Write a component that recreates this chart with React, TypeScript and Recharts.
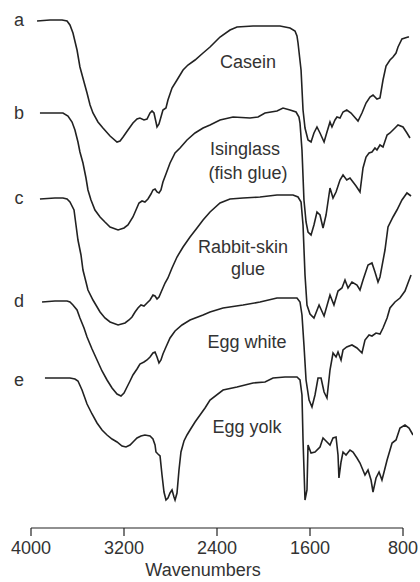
import React from "react";
import { LineChart, Line, XAxis, YAxis, ReferenceLine } from "recharts";

// IR spectra of proteinaceous binders, stacked (transmittance, offset, arbitrary units)
// each point: [wavenumber cm-1, offset transmittance]
const caseinTrace: [number, number][] = [
  [3948, 509], [3837, 510], [3733, 510], [3690, 509], [3665, 505], [3639, 497], [3604, 480],
  [3579, 463], [3544, 448], [3518, 437], [3492, 425], [3467, 417], [3424, 408], [3381, 402],
  [3320, 394], [3260, 388], [3234, 389], [3208, 393], [3166, 400], [3123, 407], [3088, 411],
  [3063, 412], [3028, 410], [3002, 411], [2976, 417], [2959, 419], [2942, 417], [2925, 408],
  [2916, 403], [2899, 406], [2882, 413], [2865, 420], [2839, 422], [2822, 430], [2787, 442],
  [2744, 450], [2692, 460], [2650, 465], [2589, 470], [2520, 477], [2460, 483], [2374, 493],
  [2288, 500], [2228, 503], [2090, 504], [1944, 504], [1858, 504], [1772, 502], [1729, 499],
  [1712, 494], [1703, 487], [1677, 460], [1660, 420], [1643, 402], [1617, 390], [1591, 388],
  [1566, 397], [1540, 403], [1514, 397], [1479, 388], [1454, 398], [1428, 408], [1411, 403],
  [1385, 410], [1368, 413], [1342, 412], [1316, 418], [1284, 420], [1247, 417], [1187, 409],
  [1153, 417], [1118, 427], [1084, 433], [1058, 435], [1024, 431], [998, 432], [972, 450],
  [946, 464], [912, 470], [886, 473], [860, 477], [843, 483], [809, 491], [757, 493], [748, 493],
];

const isinglassTrace: [number, number][] = [
  [3923, 417], [3794, 417], [3725, 417], [3682, 414], [3647, 408], [3622, 400], [3596, 388],
  [3579, 378], [3553, 367], [3527, 352], [3510, 340], [3484, 330], [3450, 320], [3406, 313],
  [3364, 308], [3320, 303], [3251, 300], [3200, 302], [3166, 305], [3123, 313], [3097, 320],
  [3071, 327], [3045, 329], [3020, 328], [2994, 331], [2968, 336], [2951, 340], [2933, 341],
  [2916, 338], [2899, 337], [2882, 340], [2865, 348], [2839, 356], [2804, 367], [2761, 377],
  [2718, 382], [2658, 390], [2589, 397], [2520, 402], [2460, 405], [2374, 410], [2262, 413],
  [2116, 412], [2047, 413], [1987, 417], [1884, 419], [1832, 422], [1772, 420], [1720, 418],
  [1695, 413], [1686, 407], [1669, 380], [1652, 330], [1634, 308], [1617, 298], [1591, 295],
  [1566, 305], [1540, 318], [1514, 315], [1488, 302], [1462, 315], [1428, 342], [1402, 332],
  [1376, 338], [1342, 350], [1316, 355], [1284, 350], [1256, 352], [1230, 348], [1204, 344],
  [1170, 338], [1144, 362], [1118, 373], [1092, 377], [1067, 378], [1041, 382], [1024, 380],
  [998, 385], [972, 383], [937, 395], [912, 397], [869, 402], [843, 405], [800, 403],
  [766, 397], [740, 392],
];

const rabbitSkinTrace: [number, number][] = [
  [3923, 331], [3794, 332], [3725, 332], [3690, 331], [3665, 328], [3630, 320], [3613, 305],
  [3596, 290], [3570, 275], [3553, 260], [3527, 248], [3510, 240], [3467, 230], [3406, 218],
  [3364, 212], [3320, 208], [3251, 205], [3191, 207], [3157, 210], [3131, 213], [3105, 218],
  [3080, 222], [3054, 225], [3028, 224], [3002, 227], [2976, 230], [2951, 235], [2933, 234],
  [2916, 231], [2899, 233], [2873, 240], [2847, 247], [2822, 252], [2787, 262], [2744, 273],
  [2692, 283], [2632, 293], [2572, 302], [2520, 310], [2460, 318], [2374, 327], [2288, 331],
  [2176, 332], [2030, 333], [1884, 335], [1746, 335], [1703, 333], [1677, 328], [1660, 305],
  [1643, 255], [1626, 225], [1600, 216], [1566, 212], [1522, 225], [1479, 214], [1428, 235],
  [1394, 225], [1359, 239], [1325, 242], [1299, 250], [1273, 242], [1239, 248], [1196, 245],
  [1170, 240], [1144, 250], [1101, 265], [1067, 267], [1041, 258], [1015, 248], [998, 253],
  [955, 280], [929, 303], [886, 313], [852, 320], [809, 330], [766, 337], [731, 334],
];

const eggWhiteTrace: [number, number][] = [
  [3905, 228], [3794, 229], [3690, 229], [3665, 228], [3639, 225], [3604, 220], [3579, 212],
  [3544, 202], [3518, 193], [3475, 181], [3432, 170], [3389, 159], [3346, 150], [3303, 142],
  [3260, 136], [3226, 134], [3200, 137], [3174, 143], [3148, 149], [3123, 155], [3088, 161],
  [3063, 166], [3028, 168], [3002, 170], [2976, 173], [2951, 177], [2933, 178], [2916, 173],
  [2899, 167], [2882, 170], [2865, 176], [2839, 183], [2804, 192], [2761, 199], [2701, 205],
  [2632, 210], [2520, 215], [2460, 218], [2348, 222], [2176, 225], [2030, 228], [1884, 232],
  [1772, 232], [1712, 232], [1686, 228], [1669, 215], [1652, 185], [1634, 150], [1608, 130],
  [1583, 123], [1557, 135], [1531, 152], [1505, 152], [1479, 138], [1454, 132], [1428, 160],
  [1402, 177], [1376, 173], [1359, 178], [1333, 170], [1316, 180], [1284, 183], [1239, 185],
  [1196, 182], [1153, 177], [1127, 190], [1092, 195], [1067, 194], [1032, 197], [998, 196],
  [972, 202], [937, 212], [912, 222], [869, 228], [826, 232], [783, 239], [757, 247], [731, 255],
];

const eggYolkTrace: [number, number][] = [
  [3880, 152], [3750, 152], [3665, 152], [3622, 151], [3596, 149], [3561, 140], [3518, 126],
  [3475, 116], [3432, 107], [3389, 100], [3346, 95], [3303, 91], [3260, 88], [3217, 84],
  [3183, 83], [3148, 85], [3114, 89], [3088, 92], [3054, 94], [3020, 95], [2976, 94],
  [2951, 91], [2933, 85], [2925, 78], [2908, 76], [2890, 74], [2873, 55], [2856, 38],
  [2839, 30], [2822, 32], [2804, 37], [2787, 40], [2770, 33], [2761, 30], [2744, 37],
  [2727, 60], [2710, 78], [2684, 89], [2658, 95], [2632, 100], [2589, 108], [2546, 115],
  [2503, 122], [2460, 130], [2348, 140], [2228, 143], [2090, 147], [1987, 148], [1918, 152],
  [1815, 153], [1712, 153], [1686, 150], [1669, 135], [1660, 90], [1643, 30], [1626, 40],
  [1617, 85], [1591, 77], [1557, 78], [1514, 83], [1488, 92], [1454, 88], [1428, 85],
  [1402, 92], [1376, 93], [1359, 75], [1351, 52], [1333, 68], [1316, 78], [1290, 75],
  [1256, 80], [1230, 78], [1196, 72], [1170, 67], [1127, 55], [1101, 60], [1075, 50],
  [1058, 38], [1032, 52], [1006, 58], [981, 50], [963, 58], [937, 70], [894, 87],
  [860, 90], [826, 102], [783, 105], [748, 102], [714, 95],
];

const traceLetters = ["a", "b", "c", "d", "e"];
const traceNames = ["Casein", "Isinglass (fish glue)", "Rabbit-skin glue", "Egg white", "Egg yolk"];
const xTicks = [4000, 3200, 2400, 1600, 800];

const traces = [caseinTrace, isinglassTrace, rabbitSkinTrace, eggWhiteTrace, eggYolkTrace];

const INK = "#222";
const TEXT = "#333";
const FONT = "'Liberation Sans', Arial, Helvetica, sans-serif";

// label placement (pixels)
const letterY = [26, 119, 204, 307, 386];
const nameLines = [
  [{ x: 248, y: 68, t: "Casein" }],
  [{ x: 245, y: 155, t: "Isinglass" }, { x: 248, y: 179, t: "(fish glue)" }],
  [{ x: 243, y: 253, t: "Rabbit-skin" }, { x: 248, y: 275, t: "glue" }],
  [{ x: 247, y: 348, t: "Egg white" }],
  [{ x: 247, y: 433, t: "Egg yolk" }],
];

export default function App() {
  const series = traces.map((pts) => pts.map(([wn, t]) => ({ wn, t })));

  return (
    <div style={{ position: "absolute", left: 0, top: 0, width: 420, height: 582, background: "#fff" }}>
      <LineChart width={420} height={582} margin={{ top: 0, right: 7, bottom: 0, left: 31 }}>
        <XAxis
          type="number"
          dataKey="wn"
          domain={[714, 4000]}
          reversed
          allowDataOverflow
          ticks={xTicks}
          interval={0}
          axisLine={false}
          tickLine={{ stroke: INK, strokeWidth: 1.2 }}
          tickSize={8}
          tickMargin={5}
          height={54}
          tick={{ fill: TEXT, fontSize: 18, fontFamily: FONT }}
        />
        <YAxis hide type="number" domain={[2, 530]} allowDataOverflow />
        <ReferenceLine
          segment={[{ x: 4000, y: 2 }, { x: 800, y: 2 }]}
          stroke={INK}
          strokeWidth={1.2}
          ifOverflow="visible"
        />
        {series.map((data, i) => (
          <Line
            key={traceLetters[i]}
            name={traceNames[i]}
            data={data}
            dataKey="t"
            type="linear"
            stroke={INK}
            strokeWidth={1.6}
            dot={false}
            activeDot={false}
            isAnimationActive={false}
          />
        ))}
      </LineChart>
      <svg
        width={420}
        height={582}
        style={{ position: "absolute", left: 0, top: 0, pointerEvents: "none" }}
        fontFamily={FONT}
        fontSize={18}
        fill={TEXT}
      >
        {traceLetters.map((l, i) => (
          <text key={l} x={19} y={letterY[i]} textAnchor="middle">
            {l}
          </text>
        ))}
        {nameLines.flat().map((n) => (
          <text key={n.t} x={n.x} y={n.y} textAnchor="middle">
            {n.t}
          </text>
        ))}
        <text x={203} y={576} textAnchor="middle">
          Wavenumbers
        </text>
      </svg>
    </div>
  );
}
